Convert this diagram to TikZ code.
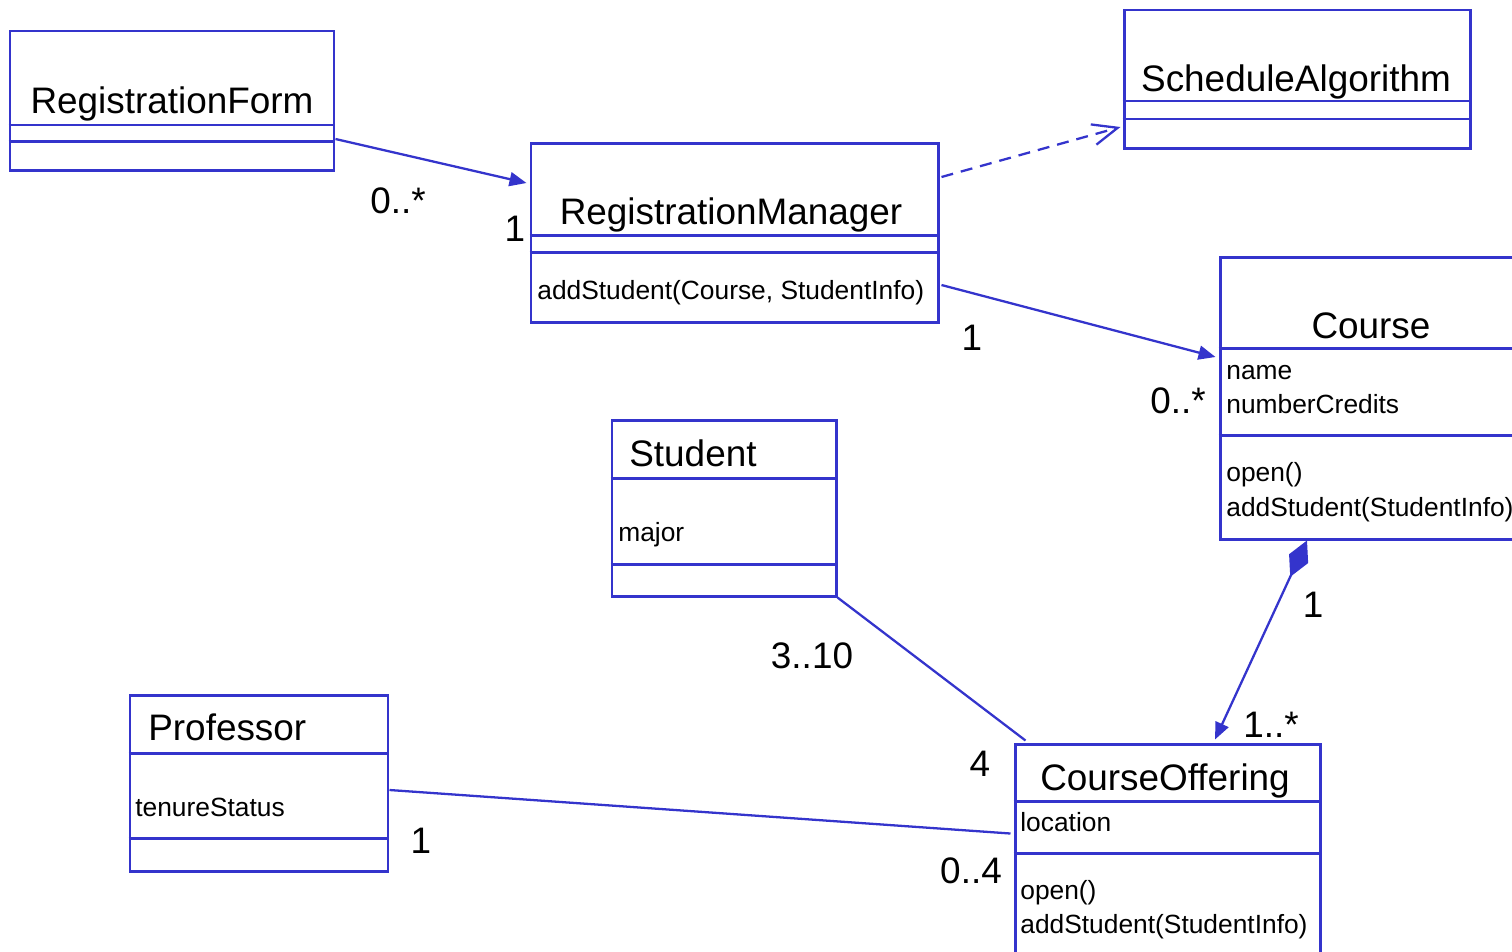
\documentclass[tikz,border=0pt]{standalone}
\usepackage{fontspec}
\setmainfont{Liberation Sans}
\usepackage{tikz}
\usetikzlibrary{calc,fit,arrows.meta}
\definecolor{umlblue}{HTML}{3434CC}

\begin{document}
\begin{tikzpicture}[
    x=0.02cm, y=-0.02cm,
    classbox/.style={draw=umlblue, line width=1.7pt, inner sep=0pt},
    sep/.style={draw=umlblue, line width=1.7pt},
    cname/.style={font=\fontsize{21}{25}\selectfont, anchor=base, inner sep=0pt},
    member/.style={font=\fontsize{15}{18}\selectfont, anchor=base west, inner sep=0pt},
    mult/.style={font=\fontsize{21}{25}\selectfont, anchor=base, inner sep=0pt},
    assoc/.style={draw=umlblue, line width=1.3pt},
    nav/.style={assoc, -{Triangle[length=0.34cm, width=0.28cm]}}
]
    \useasboundingbox (0,0) rectangle (1512,951);
    \clip (0,0) rectangle (1512,951);

    % Classes
    \node[classbox, fit={(10,31) (334,170)}] (form) {};
    \draw[sep] (form.west |- 0,125) -- (form.east |- 0,125);
    \draw[sep] (form.west |- 0,141) -- (form.east |- 0,141);
    \node[cname] at (172,113) {RegistrationForm};

    \node[classbox, fit={(531,143) (938,322)}] (mgr) {};
    \draw[sep] (mgr.west |- 0,235) -- (mgr.east |- 0,235);
    \draw[sep] (mgr.west |- 0,252) -- (mgr.east |- 0,252);
    \node[cname] at (731,224) {RegistrationManager};
    \node[member] at (537,299) {addStudent(Course, StudentInfo)};

    \node[classbox, fit={(1124,10) (1470,148)}] (sched) {};
    \draw[sep] (sched.west |- 0,101) -- (sched.east |- 0,101);
    \draw[sep] (sched.west |- 0,119) -- (sched.east |- 0,119);
    \node[cname] at (1296,91) {ScheduleAlgorithm};

    \node[classbox, fit={(1220,257) (1522,539)}] (course) {};
    \draw[sep] (course.west |- 0,348) -- (course.east |- 0,348);
    \draw[sep] (course.west |- 0,435) -- (course.east |- 0,435);
    \node[cname] at (1371,338) {Course};
    \node[member] at (1226,379) {name};
    \node[member] at (1226,413) {numberCredits};
    \node[member] at (1226,481) {open()};
    \node[member] at (1226,516) {addStudent(StudentInfo)};

    \node[classbox, fit={(612,420) (836,596)}] (student) {};
    \draw[sep] (student.west |- 0,478) -- (student.east |- 0,478);
    \draw[sep] (student.west |- 0,564) -- (student.east |- 0,564);
    \node[cname, anchor=base west] at (629,466) {Student};
    \node[member] at (618,541) {major};

    \node[classbox, fit={(130,695) (388,871)}] (prof) {};
    \draw[sep] (prof.west |- 0,753) -- (prof.east |- 0,753);
    \draw[sep] (prof.west |- 0,838) -- (prof.east |- 0,838);
    \node[cname, anchor=base west] at (148,740) {Professor};
    \node[member] at (135,816) {tenureStatus};

    \node[classbox, fit={(1015,744) (1320,962)}] (offering) {};
    \draw[sep] (offering.west |- 0,801) -- (offering.east |- 0,801);
    \draw[sep] (offering.west |- 0,853) -- (offering.east |- 0,853);
    \node[cname] at (1165,790) {CourseOffering};
    \node[member] at (1020,831) {location};
    \node[member] at (1020,899) {open()};
    \node[member] at (1020,933) {addStudent(StudentInfo)};

    % Associations
    \draw[nav] ($(form.east)+(0,38.5)$) -- ($(mgr.west)+(-3,-49.5)$);
    \node[mult] at (398,213) {0..*};
    \node[mult] at (515,241) {1};

    \draw[assoc, dash pattern=on 0.24cm off 0.16cm, -{Straight Barb[length=0.5cm, width=0.42cm]}]
        ($(mgr.east)+(2,-55.5)$) -- ($(sched.west)+(-2,48)$);

    \draw[nav] ($(mgr.east)+(2,52.5)$) -- ($(course.west)+(-3,-41)$);
    \node[mult] at (972,350) {1};
    \node[mult] at (1178,413) {0..*};

    % Composition
    \draw[assoc, {Diamond[length=0.8cm, width=0.42cm]}-{Triangle[length=0.34cm, width=0.28cm]}]
        ($(course.south)+(-64,0)$) -- ($(offering.north)+(47.5,-3)$);
    \node[mult] at (1313,617) {1};
    \node[mult] at (1271,737) {1..*};

    \draw[assoc] (student.south east) -- ($(offering.north west)+(12,-2)$);
    \node[mult] at (812,668) {3..10};
    \node[mult] at (980,776) {4};

    \draw[assoc] ($(prof.east)+(0,7)$) -- ($(offering.north west)+(-3,91)$);
    \node[mult] at (421,853) {1};
    \node[mult] at (971,883) {0..4};
\end{tikzpicture}
\end{document}
